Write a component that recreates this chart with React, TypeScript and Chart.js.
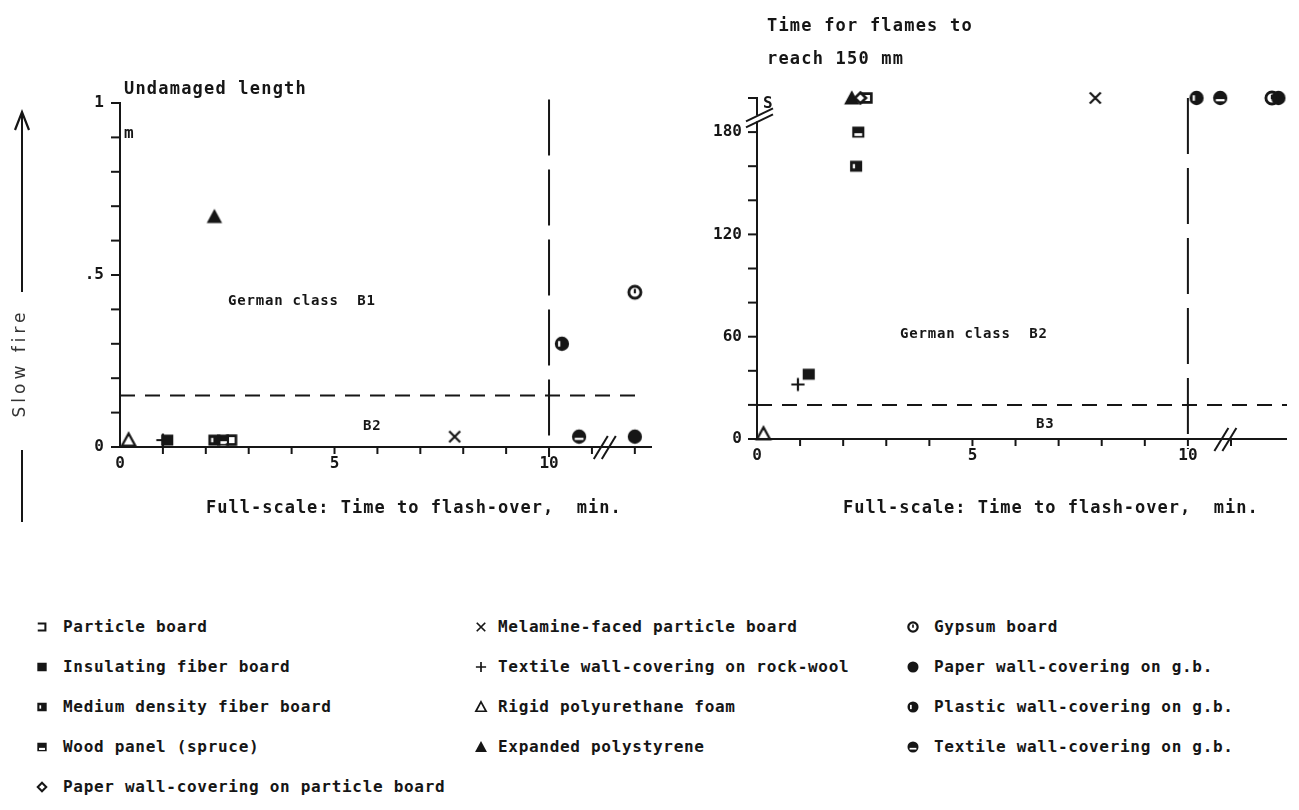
import React, { useEffect, useRef } from "react";
import { Chart, registerables } from "chart.js";

Chart.register(...registerables);

// ---------------- data ----------------
const materials = [
  "Particle board",
  "Insulating fiber board",
  "Medium density fiber board",
  "Wood panel (spruce)",
  "Paper wall-covering on particle board",
  "Melamine-faced particle board",
  "Textile wall-covering on rock-wool",
  "Rigid polyurethane foam",
  "Expanded polystyrene",
  "Gypsum board",
  "Paper wall-covering on g.b.",
  "Plastic wall-covering on g.b.",
  "Textile wall-covering on g.b.",
];
const markerKinds = [
  "bracket", "square", "mdf", "wood", "diamond",
  "cross", "plus", "triOpen", "triFilled",
  "gypsum", "disc", "plastic", "textile",
];

// left panel: full-scale time to flash-over (min) vs undamaged length (m)
const flashoverLeft = [2.6, 1.1, 2.2, 2.4, null, 7.8, 1.0, 0.2, 2.2, 12.0, 12.0, 10.3, 10.7];
const undamagedLength = [0.02, 0.02, 0.02, 0.02, null, 0.03, 0.02, 0.02, 0.67, 0.45, 0.03, 0.3, 0.03];

// right panel: full-scale time to flash-over (min) vs time for flames to reach 150 mm (s)
const flashoverRight = [2.55, 1.2, 2.3, 2.35, 2.4, 7.85, 0.95, 0.15, 2.2, 11.95, 12.1, 10.2, 10.75];
const flameTime = [200, 38, 160, 180, 200, 200, 32, 3, 200, 200, 200, 200, 200];

// axes / tick labels
const leftYTickValues = [0, 0.1, 0.2, 0.3, 0.4, 0.5, 0.6, 0.7, 0.8, 0.9, 1];
const leftYTickLabels = [{ v: 0, t: "0" }, { v: 0.5, t: ".5" }, { v: 1, t: "1" }];
const rightYTickValues = [0, 20, 40, 60, 80, 100, 120, 140, 160, 180];
const rightYTickLabels = [{ v: 0, t: "0" }, { v: 60, t: "60" }, { v: 120, t: "120" }, { v: 180, t: "180" }];
const leftXTickValues = [1, 2, 3, 4, 5, 6, 7, 8, 9, 10, 11, 12];
const rightXTickValues = [1, 2, 3, 4, 5, 6, 7, 8, 9, 10, 11];
const xTickLabels = [{ v: 0, t: "0" }, { v: 5, t: "5" }, { v: 10, t: "10" }];

// class limits
const classLimitB1 = 0.15;
const classLimitB2 = 20;
const flashoverLimit = 10;

// ---------------- drawing helpers ----------------
const INK = "#161616";
const MONO = '"DejaVu Sans Mono", "Liberation Mono", monospace';

function drawShape(ctx: CanvasRenderingContext2D, kind: string) {
  ctx.fillStyle = INK;
  ctx.strokeStyle = INK;
  ctx.lineWidth = 2;
  const circle = (r: number) => {
    ctx.beginPath();
    ctx.arc(0, 0, r, 0, Math.PI * 2);
  };
  switch (kind) {
    case "bracket":
      ctx.lineWidth = 2.4;
      ctx.beginPath();
      ctx.moveTo(-5, -4);
      ctx.lineTo(4, -4);
      ctx.lineTo(4, 4);
      ctx.lineTo(-5, 4);
      ctx.stroke();
      break;
    case "square":
      ctx.fillRect(-5.5, -5, 11, 10);
      break;
    case "mdf":
      ctx.fillRect(-5.5, -5, 11, 10);
      ctx.fillStyle = "#fff";
      ctx.fillRect(-3, -2, 2, 4);
      break;
    case "wood":
      ctx.fillRect(-5.5, -5, 11, 10);
      ctx.fillStyle = "#fff";
      ctx.fillRect(-3.5, 1, 7, 2.5);
      break;
    case "diamond":
      ctx.lineWidth = 2.4;
      ctx.beginPath();
      ctx.moveTo(0, -5);
      ctx.lineTo(5, 0);
      ctx.lineTo(0, 5);
      ctx.lineTo(-5, 0);
      ctx.closePath();
      ctx.stroke();
      break;
    case "cross":
      ctx.beginPath();
      ctx.moveTo(-5, -5);
      ctx.lineTo(5, 5);
      ctx.moveTo(5, -5);
      ctx.lineTo(-5, 5);
      ctx.stroke();
      break;
    case "plus":
      ctx.beginPath();
      ctx.moveTo(-6, 0);
      ctx.lineTo(6, 0);
      ctx.moveTo(0, -6);
      ctx.lineTo(0, 6);
      ctx.stroke();
      break;
    case "triOpen":
      ctx.beginPath();
      ctx.moveTo(0, -6);
      ctx.lineTo(6, 5);
      ctx.lineTo(-6, 5);
      ctx.closePath();
      ctx.stroke();
      break;
    case "triFilled":
      ctx.beginPath();
      ctx.moveTo(0, -7);
      ctx.lineTo(7, 6);
      ctx.lineTo(-7, 6);
      ctx.closePath();
      ctx.fill();
      break;
    case "gypsum":
      ctx.lineWidth = 2.6;
      circle(5.5);
      ctx.stroke();
      ctx.lineWidth = 2;
      ctx.beginPath();
      ctx.moveTo(0, -3);
      ctx.lineTo(0, 1);
      ctx.stroke();
      break;
    case "disc":
      circle(6.5);
      ctx.fill();
      break;
    case "plastic":
      circle(6.5);
      ctx.fill();
      ctx.fillStyle = "#fff";
      ctx.fillRect(-3.5, -2.5, 2, 5);
      break;
    case "textile":
      circle(6.5);
      ctx.fill();
      ctx.fillStyle = "#fff";
      ctx.fillRect(-4, 1, 8, 2);
      break;
  }
}

function makeMarker(kind: string, size: number, k: number) {
  const cv = document.createElement("canvas");
  cv.width = size;
  cv.height = size;
  const ctx = cv.getContext("2d")!;
  ctx.translate(size / 2, size / 2);
  ctx.scale(k, k);
  drawShape(ctx, kind);
  return cv;
}

type AxisCfg = {
  yTicks: number[];
  yLabels: { v: number; t: string }[];
  yTop: number;
  yLabelRight: number;
  xTicks: number[];
  xLabels: { v: number; t: string }[];
  xEnd: number;
  xBreak: number;
  yBreak?: number;
  hLine: number;
  hLineEnd: number;
  vLine: number;
  vTop: number;
};

function axesPlugin(cfg: AxisCfg) {
  return {
    id: "paperAxes",
    beforeDatasetsDraw(chart: any) {
      const { ctx, scales } = chart;
      const xs = scales.x;
      const ys = scales.y;
      const px = (v: number) => xs.getPixelForValue(v);
      const py = (v: number) => ys.getPixelForValue(v);
      const x0 = px(0);
      const y0 = py(0);
      const line = (a: number, b: number, c: number, d: number) => {
        ctx.beginPath();
        ctx.moveTo(a, b);
        ctx.lineTo(c, d);
        ctx.stroke();
      };
      ctx.save();
      ctx.strokeStyle = INK;
      ctx.fillStyle = INK;
      ctx.lineWidth = 2;
      // y axis
      line(x0, py(cfg.yTop) - 1, x0, y0 + 1);
      line(x0 - 9, py(cfg.yTop), x0, py(cfg.yTop));
      for (const v of cfg.yTicks) line(x0 - 9, py(v), x0, py(v));
      // x axis
      line(x0 - 1, y0, px(cfg.xEnd), y0);
      for (const v of cfg.xTicks) line(px(v), y0, px(v), y0 + 7);
      // x-axis break
      const bx = px(cfg.xBreak);
      for (const off of [-4, 4]) line(bx + off - 7, y0 + 12, bx + off + 7, y0 - 11);
      // y-axis break
      if (cfg.yBreak !== undefined) {
        const by = py(cfg.yBreak);
        ctx.save();
        ctx.strokeStyle = "#fff";
        ctx.lineWidth = 4;
        line(x0, by - 3, x0, by + 3);
        ctx.restore();
        for (const off of [-3, 3]) line(x0 - 11, by + off + 6, x0 + 16, by + off - 7);
      }
      // class boundary (dashed horizontal)
      ctx.setLineDash([15, 10]);
      line(x0, py(cfg.hLine), px(cfg.hLineEnd), py(cfg.hLine));
      // flash-over limit (long dash vertical)
      ctx.setLineDash([56, 14]);
      line(px(cfg.vLine), py(cfg.vTop), px(cfg.vLine), y0 + 10);
      ctx.setLineDash([]);
      // tick labels
      ctx.font = `bold 16px ${MONO}`;
      ctx.textAlign = "right";
      ctx.textBaseline = "middle";
      for (const l of cfg.yLabels) ctx.fillText(l.t, cfg.yLabelRight, py(l.v));
      ctx.textAlign = "center";
      ctx.textBaseline = "top";
      for (const l of cfg.xLabels) ctx.fillText(l.t, px(l.v), y0 + 9);
      ctx.restore();
    },
  };
}

function buildDatasets(xs: (number | null)[], ys: (number | null)[]) {
  const out: any[] = [];
  materials.forEach((name, i) => {
    const xv = xs[i];
    const yv = ys[i];
    if (xv === null || yv === null) return;
    out.push({
      label: name,
      data: [{ x: xv, y: yv }],
      pointStyle: makeMarker(markerKinds[i], 20, 1.1),
      pointRadius: 6,
      clip: false,
    });
  });
  return out;
}

function makeChart(
  canvas: HTMLCanvasElement,
  xs: (number | null)[],
  ys: (number | null)[],
  xMax: number,
  yMax: number,
  padding: { left: number; top: number; right: number; bottom: number },
  cfg: AxisCfg
) {
  return new Chart(canvas, {
    type: "scatter",
    data: { datasets: buildDatasets(xs, ys) },
    options: {
      animation: false,
      responsive: false,
      devicePixelRatio: 1,
      layout: { padding },
      scales: {
        x: { type: "linear", min: 0, max: xMax, display: false },
        y: { type: "linear", min: 0, max: yMax, display: false },
      },
      plugins: { legend: { display: false }, tooltip: { enabled: false } },
    } as any,
    plugins: [axesPlugin(cfg) as any],
  });
}

function Icon({ kind, cx, cy }: { kind: string; cx: number; cy: number }) {
  const ref = useRef<HTMLCanvasElement>(null);
  useEffect(() => {
    const c = ref.current!;
    const ctx = c.getContext("2d")!;
    ctx.clearRect(0, 0, 16, 16);
    ctx.save();
    ctx.translate(8, 8);
    ctx.scale(0.85, 0.85);
    drawShape(ctx, kind);
    ctx.restore();
  }, [kind]);
  return (
    <canvas
      ref={ref}
      width={16}
      height={16}
      style={{ position: "absolute", left: cx - 8, top: cy - 8 }}
    />
  );
}

function Txt({
  x, cy, size, ls, children, weight = "bold",
}: { x: number; cy: number; size: number; ls: number; children: string; weight?: string }) {
  return (
    <div
      style={{
        position: "absolute",
        left: x,
        top: cy - size / 2 - 1,
        fontFamily: MONO,
        fontWeight: weight as any,
        fontSize: size,
        lineHeight: `${size + 2}px`,
        letterSpacing: ls,
        whiteSpace: "pre",
        color: INK,
      }}
    >
      {children}
    </div>
  );
}

export default function App() {
  const leftRef = useRef<HTMLCanvasElement>(null);
  const rightRef = useRef<HTMLCanvasElement>(null);

  useEffect(() => {
    const left = makeChart(
      leftRef.current!,
      flashoverLeft,
      undamagedLength,
      12.4,
      1,
      { left: 120, top: 103, right: 48, bottom: 113 },
      {
        yTicks: leftYTickValues,
        yLabels: leftYTickLabels,
        yTop: 1,
        yLabelRight: 104,
        xTicks: leftXTickValues,
        xLabels: xTickLabels,
        xEnd: 12.4,
        xBreak: 11.3,
        hLine: classLimitB1,
        hLineEnd: 12.1,
        vLine: flashoverLimit,
        vTop: 1.01,
      }
    );
    const right = makeChart(
      rightRef.current!,
      flashoverRight,
      flameTime,
      12.3,
      200,
      { left: 57, top: 98, right: 12, bottom: 121 },
      {
        yTicks: rightYTickValues,
        yLabels: rightYTickLabels,
        yTop: 200,
        yLabelRight: 42,
        xTicks: rightXTickValues,
        xLabels: xTickLabels,
        xEnd: 12.3,
        xBreak: 10.87,
        yBreak: 188,
        hLine: classLimitB2,
        hLineEnd: 12.3,
        vLine: flashoverLimit,
        vTop: 200,
      }
    );
    return () => {
      left.destroy();
      right.destroy();
    };
  }, []);

  const legendCols = [
    { icon: 42, text: 63, items: [0, 1, 2, 3, 4] },
    { icon: 481, text: 498, items: [5, 6, 7, 8] },
    { icon: 913, text: 934, items: [9, 10, 11, 12] },
  ];
  const legendRows = [627, 667, 707, 747, 787];

  return (
    <div
      style={{
        position: "absolute",
        left: 0,
        top: 0,
        width: 1299,
        height: 810,
        background: "#fff",
        overflow: "hidden",
      }}
    >
      <canvas
        ref={leftRef}
        width={700}
        height={560}
        style={{ position: "absolute", left: 0, top: 0, width: 700, height: 560 }}
      />
      <canvas
        ref={rightRef}
        width={599}
        height={560}
        style={{ position: "absolute", left: 700, top: 0, width: 599, height: 560 }}
      />

      {/* Slow fire indicator */}
      <svg
        width={60}
        height={560}
        style={{ position: "absolute", left: 0, top: 0 }}
      >
        <line x1={22} y1={113} x2={22} y2={292} stroke={INK} strokeWidth={2} />
        <polyline points="15,130 22,112 29,130" fill="none" stroke={INK} strokeWidth={2.2} />
        <line x1={22} y1={450} x2={22} y2={522} stroke={INK} strokeWidth={2} />
      </svg>
      <div
        style={{
          position: "absolute",
          left: 19 - 70,
          top: 363 - 11,
          width: 140,
          height: 22,
          lineHeight: "22px",
          textAlign: "center",
          transform: "rotate(-90deg)",
          transformOrigin: "70px 11px",
          fontFamily: '"DejaVu Sans", sans-serif',
          fontSize: 17,
          letterSpacing: 4,
          color: "#333",
          whiteSpace: "pre",
        }}
      >
        Slow fire
      </div>

      {/* left panel texts */}
      <Txt x={124} cy={88} size={17} ls={1.2}>Undamaged length</Txt>
      <Txt x={124} cy={133} size={16} ls={0}>m</Txt>
      <Txt x={228} cy={300} size={14} ls={0.8}>German class  B1</Txt>
      <Txt x={363} cy={425} size={14} ls={0.8}>B2</Txt>
      <Txt x={206} cy={507} size={17} ls={1.0}>Full-scale: Time to flash-over,  min.</Txt>

      {/* right panel texts */}
      <Txt x={767} cy={25} size={17} ls={1.2}>Time for flames to</Txt>
      <Txt x={767} cy={58} size={17} ls={1.2}>reach 150 mm</Txt>
      <Txt x={763} cy={103} size={16} ls={0}>S</Txt>
      <Txt x={900} cy={333} size={14} ls={0.8}>German class  B2</Txt>
      <Txt x={1036} cy={423} size={14} ls={0.8}>B3</Txt>
      <Txt x={843} cy={507} size={17} ls={1.0}>Full-scale: Time to flash-over,  min.</Txt>

      {/* legend */}
      {legendCols.map((col, ci) =>
        col.items.map((mi, ri) => (
          <React.Fragment key={`${ci}-${ri}`}>
            <Icon kind={markerKinds[mi]} cx={col.icon} cy={legendRows[ri]} />
            <Txt x={col.text} cy={legendRows[ri]} size={16} ls={0.7}>
              {materials[mi]}
            </Txt>
          </React.Fragment>
        ))
      )}
    </div>
  );
}
